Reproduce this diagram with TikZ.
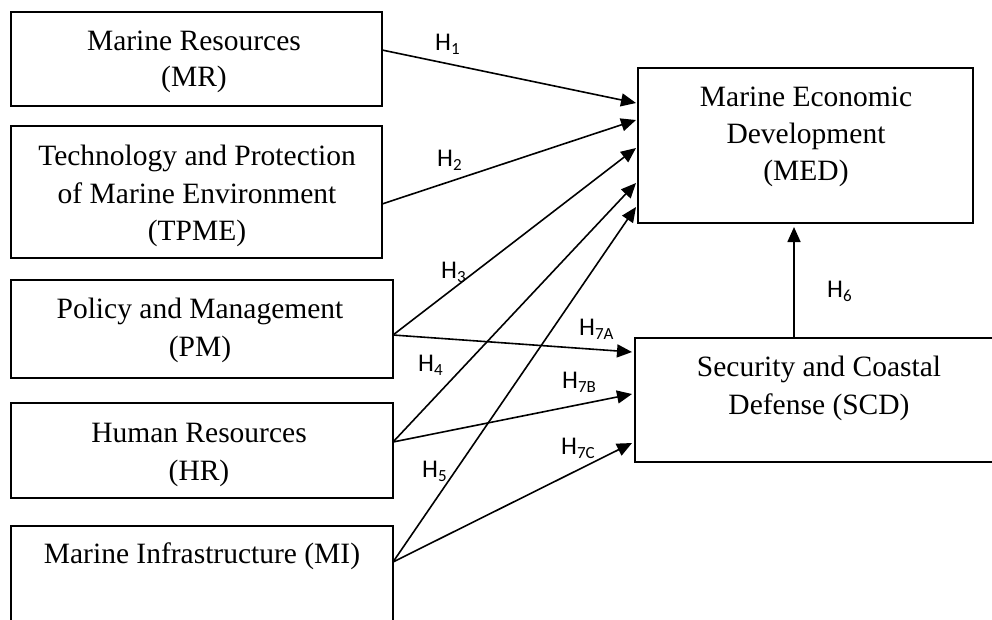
\documentclass[tikz,border=0pt]{standalone}
\usepackage{fontspec}
\setmainfont{Liberation Serif}
\newfontfamily\labfont{Carlito}
\usetikzlibrary{arrows.meta}
\newcommand\Hlab[1]{H\raisebox{-4.5pt}{\fontsize{17}{17}\selectfont #1}}
\begin{document}
\begin{tikzpicture}[x=1pt,y=-1pt,
 box/.style={draw,line width=2pt,inner sep=0pt},
 openbox/.style={line width=2pt},
 txt/.style={font=\fontsize{29.5}{35}\selectfont, anchor=base, inner sep=0pt},
 conn/.style={line width=1.6pt,-{Triangle[length=15pt,width=13pt]}},
 hl/.style={font=\labfont\fontsize{25.5}{28}\selectfont, anchor=base west, inner sep=0pt}]
\useasboundingbox (0,0) rectangle (992,619);

% boxes
\node[box, minimum width=371pt, minimum height=94pt] (mr) at (196.5,59) {};
\node[box, minimum width=371pt, minimum height=132pt] (tpme) at (196.5,192) {};
\node[box, minimum width=382pt, minimum height=98pt] (pm) at (202,329) {};
\node[box, minimum width=382pt, minimum height=95pt] (hr) at (202,450.5) {};
\node[minimum width=382pt, minimum height=100pt, inner sep=0pt] (mi) at (202,576) {};
\draw[openbox] (11,625) -- (11,526) -- (393,526) -- (393,625);
\node[box, minimum width=335pt, minimum height=155pt] (med) at (805.5,145.5) {};
\node[minimum width=360pt, minimum height=124pt, inner sep=0pt] (scd) at (815,400) {};
\draw[openbox] (1000,338) -- (635,338) -- (635,462) -- (1000,462);

% texts
\node[txt] (mrt1) at (194,50) {Marine Resources};
\node[txt] (mrt2) at (194,86) {(MR)};
\node[txt] (tpt1) at (197,165) {Technology and Protection};
\node[txt] (tpt2) at (197,203) {of Marine Environment};
\node[txt] (tpt3) at (197,240) {(TPME)};
\node[txt] (pmt1) at (200,318) {Policy and Management};
\node[txt] (pmt2) at (200,356) {(PM)};
\node[txt] (hrt1) at (199,442) {Human Resources};
\node[txt] (hrt2) at (199,480) {(HR)};
\node[txt] (mit1) at (202,563) {Marine Infrastructure (MI)};
\node[txt] (medt1) at (806,106) {Marine Economic};
\node[txt] (medt2) at (806,143) {Development};
\node[txt] (medt3) at (806,180) {(MED)};
\node[txt] (scdt1) at (819,376) {Security and Coastal};
\node[txt] (scdt2) at (819,414) {Defense (SCD)};

% connector end points
\coordinate (mro) at (382,50);
\coordinate (tpo) at (382,204);
\coordinate (pmo) at (393,335);
\coordinate (hro) at (393,442);
\coordinate (mio) at (393,562);
\coordinate (med1) at (636,103);
\coordinate (med2) at (636,120);
\coordinate (med3) at (636,148);
\coordinate (med4) at (636,183);
\coordinate (med5) at (636,207);
\coordinate (scd1) at (632,352);
\coordinate (scd2) at (632,394);
\coordinate (scd3) at (632,443);
\coordinate (scdtop) at (794,338);
\coordinate (medbot) at (794,227);

\draw[conn] (mro) -- (med1);
\draw[conn] (tpo) -- (med2);
\draw[conn] (pmo) -- (med3);
\draw[conn] (hro) -- (med4);
\draw[conn] (mio) -- (med5);
\draw[conn] (pmo) -- (scd1);
\draw[conn] (hro) -- (scd2);
\draw[conn] (mio) -- (scd3);
\draw[conn] (scdtop) -- (medbot);

% labels
\node[hl] (h1) at (435,50) {\Hlab{1}};
\node[hl] (h2) at (437,166) {\Hlab{2}};
\node[hl] (h3) at (441,278) {\Hlab{3}};
\node[hl] (h4) at (418,371) {\Hlab{4}};
\node[hl] (h5) at (422,477) {\Hlab{5}};
\node[hl] (h6) at (827,297) {\Hlab{6}};
\node[hl] (h7a) at (579,335) {\Hlab{7A}};
\node[hl] (h7b) at (562,388) {\Hlab{7B}};
\node[hl] (h7c) at (561,454) {\Hlab{7C}};
\end{tikzpicture}
\end{document}
